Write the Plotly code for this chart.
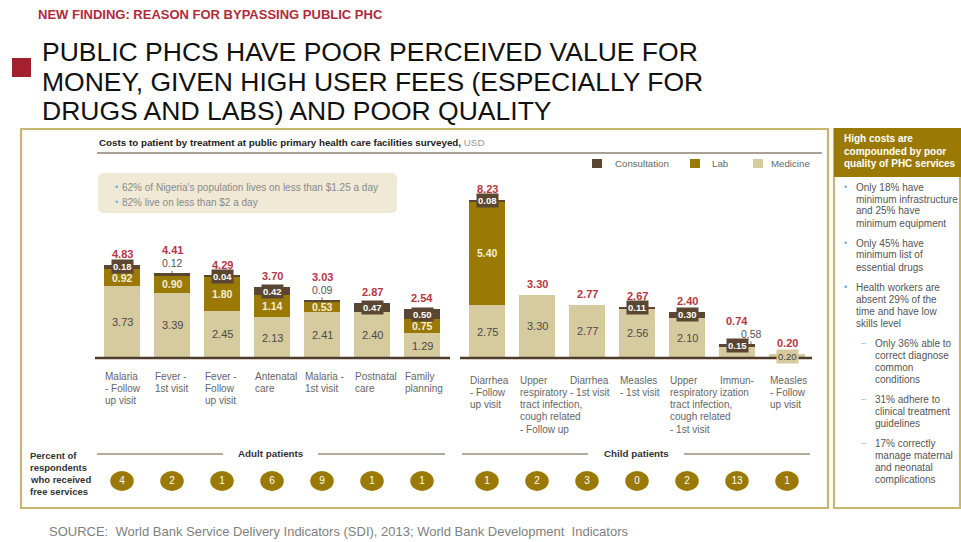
import plotly.graph_objects as go

W, H = 961, 542
FONT = "Liberation Sans, Arial, sans-serif"

# ---------------- data ----------------
adult_categories = ["Malaria<br>- Follow<br>up visit", "Fever -<br>1st visit", "Fever -<br>Follow<br>up visit",
                    "Antenatal<br>care", "Malaria -<br>1st visit", "Postnatal<br>care", "Family<br>planning"]
adult_medicine = [3.73, 3.39, 2.45, 2.13, 2.41, 2.40, 1.29]
adult_lab = [0.92, 0.90, 1.80, 1.14, 0.53, 0.0, 0.75]
adult_consultation = [0.18, 0.12, 0.04, 0.42, 0.09, 0.47, 0.50]
adult_total = [4.83, 4.41, 4.29, 3.70, 3.03, 2.87, 2.54]
adult_free_pct = [4, 2, 1, 6, 9, 1, 1]

child_categories = ["Diarrhea<br>- Follow<br>up visit",
                    "Upper<br>respiratory<br>tract infection,<br>cough related<br>- Follow up",
                    "Diarrhea<br>- 1st visit", "Measles<br>- 1st visit",
                    "Upper<br>respiratory<br>tract infection,<br>cough related<br>- 1st visit",
                    "Immun-<br>ization", "Measles<br>- Follow<br>up visit"]
child_medicine = [2.75, 3.30, 2.77, 2.56, 2.10, 0.58, 0.20]
child_lab = [5.40, 0.0, 0.0, 0.0, 0.0, 0.0, 0.0]
child_consultation = [0.08, 0.0, 0.0, 0.11, 0.30, 0.15, 0.0]
child_total = [8.23, 3.30, 2.77, 2.67, 2.40, 0.74, 0.20]
child_free_pct = [1, 2, 3, 0, 2, 13, 1]

note_lines = ["62% of Nigeria's population lives on less than $1.25 a day",
              "82% live on less than $2 a day"]
panel_header = ["High costs are", "compounded by poor", "quality of PHC services"]
panel_bullets = [
    (0, ["Only 18% have", "minimum infrastructure", "and 25% have", "minimum equipment"]),
    (0, ["Only 45% have", "minimum list of", "essential drugs"]),
    (0, ["Health workers are", "absent 29% of the", "time and have low", "skills level"]),
    (1, ["Only 36% able to", "correct diagnose", "common", "conditions"]),
    (1, ["31% adhere to", "clinical treatment", "guidelines"]),
    (1, ["17% correctly", "manage maternal", "and neonatal", "complications"]),
]
title_lines = ["PUBLIC PHCS HAVE POOR PERCEIVED VALUE FOR",
               "MONEY, GIVEN HIGH USER FEES (ESPECIALLY FOR",
               "DRUGS AND LABS) AND POOR QUALITY"]

# ---------------- styling / layout ----------------
C_CONS = "#5b4633"
C_LAB = "#9a7a04"
C_MED = "#d6ca9f"
C_FRAME = "#c8b66e"
C_RED = "#b83443"
C_GRAY = "#5a5a5a"

X0_PX, STEP_PX = 122, 50
BASE_PX, UNIT_PX = 358, 19.2
CHILD_OFFSET = 7.3
BAR_W = 0.72
OUTSIDE = {1: ("cons", 0.0), 4: ("cons", 0.0), 12: ("med", 0.28)}  # index -> outside label


def fx(p):
    return p / W


def fy(p):
    return 1 - p / H


adult_x = [float(i) for i in range(len(adult_categories))]
child_x = [CHILD_OFFSET + i for i in range(len(child_categories))]
xs = adult_x + child_x
cats = adult_categories + child_categories
med = adult_medicine + child_medicine
lab = adult_lab + child_lab
cons = adult_consultation + child_consultation
tot = adult_total + child_total
free = adult_free_pct + child_free_pct

fig = go.Figure()
for name, vals, col in [("Medicine", med, C_MED), ("Lab", lab, C_LAB), ("Consultation", cons, C_CONS)]:
    fig.add_bar(x=xs, y=vals, name=name, marker_color=col, marker_line_width=0,
                width=BAR_W, showlegend=False, hoverinfo="skip")

fig.add_trace(go.Scatter(x=xs, y=[0] * len(xs), mode="text", text=[str(v) for v in free],
                         textfont=dict(color="white", size=10, family=FONT), yaxis="y2",
                         showlegend=False, hoverinfo="skip"))

ann = []
shapes = []


def txt(x, y, text, size=9.5, color=C_GRAY, bold=False, xanchor="left", yanchor="middle"):
    if bold:
        text = "<b>" + text + "</b>"
    ann.append(dict(x=fx(x), y=fy(y), xref="paper", yref="paper", text=text, showarrow=False,
                    xanchor=xanchor, yanchor=yanchor, font=dict(size=size, color=color, family=FONT)))


def rect(x0, y0, x1, y1, fill=None, line=None, lw=0):
    shapes.append(dict(type="rect", xref="paper", yref="paper", x0=fx(x0), x1=fx(x1), y0=fy(y1), y1=fy(y0),
                       fillcolor=fill if fill else "rgba(0,0,0,0)",
                       line=dict(color=line if line else "rgba(0,0,0,0)", width=lw)))


def hline(x0, x1, y, color, width):
    shapes.append(dict(type="line", xref="paper", yref="paper", x0=fx(x0), x1=fx(x1), y0=fy(y), y1=fy(y),
                       line=dict(color=color, width=width)))


# header texts
txt(36, 15, "NEW FINDING: REASON FOR BYPASSING PUBLIC PHC", size=13, color="#b02b3b", bold=True)
rect(12, 58, 31, 77, fill="#a3212f")
for k, line in enumerate(title_lines):
    txt(40, 52 + 29.5 * k, line, size=26.5, color="#111111")

# frames
rect(21, 129, 828, 508, line=C_FRAME, lw=2.2)
rect(834, 129, 960, 508, line=C_FRAME, lw=2.2)
rect(834, 128, 961, 177, fill=C_LAB)

# subtitle
txt(97, 142, "<b>Costs to patient by treatment at public primary health care facilities surveyed,</b>"
             " <span style='color:#9a9a9a'>USD</span>", size=9.8, color="#222222")
hline(97, 822, 153, "#8c8272", 1.5)

# legend
for sx, tx, lab_name, col in [(592, 613, "Consultation", C_CONS), (690, 710, "Lab", C_LAB),
                              (753, 769, "Medicine", C_MED)]:
    rect(sx, 159, sx + 10, 168, fill=col)
    txt(tx, 163.5, lab_name, size=9.7, color="#666666")

# note box (rounded)
x0, y0, x1, y1, r = 98, 173, 397, 213, 6
path = (f"M {fx(x0 + r)},{fy(y0)} L {fx(x1 - r)},{fy(y0)} Q {fx(x1)},{fy(y0)} {fx(x1)},{fy(y0 + r)} "
        f"L {fx(x1)},{fy(y1 - r)} Q {fx(x1)},{fy(y1)} {fx(x1 - r)},{fy(y1)} "
        f"L {fx(x0 + r)},{fy(y1)} Q {fx(x0)},{fy(y1)} {fx(x0)},{fy(y1 - r)} "
        f"L {fx(x0)},{fy(y0 + r)} Q {fx(x0)},{fy(y0)} {fx(x0 + r)},{fy(y0)} Z")
shapes.append(dict(type="path", xref="paper", yref="paper", path=path, fillcolor="#efe9d6",
                   line=dict(width=0)))
for k, line in enumerate(note_lines):
    txt(113, 187 + 15 * k, "•", size=9, color="#6aaed6")
    txt(120, 187 + 15 * k, line, size=10, color="#8a8a8a")

# baselines
hline(95, 450, BASE_PX, "#4e3b28", 2.5)
hline(460, 812, BASE_PX, "#4e3b28", 2.5)

# bar labels
for i, x in enumerate(xs):
    m, l, c, t = med[i], lab[i], cons[i], tot[i]
    out = OUTSIDE.get(i)
    if m > 0:
        if out and out[0] == "med":
            pass
        elif m < 0.5:
            ann.append(dict(x=x, y=m / 2, xref="x", yref="y", text=f"{m:.2f}", showarrow=False,
                            bgcolor=C_MED, borderpad=1,
                            font=dict(size=9.5, color="#444444", family=FONT)))
        else:
            ann.append(dict(x=x, y=m / 2, xref="x", yref="y", text=f"{m:.2f}", showarrow=False,
                            font=dict(size=11, color="#4a4a4a", family=FONT)))
    if l > 0:
        ann.append(dict(x=x, y=m + l / 2, xref="x", yref="y", text=f"<b>{l:.2f}</b>", showarrow=False,
                        font=dict(size=10.5, color="#f4eed6", family=FONT)))
    if c > 0 and not (out and out[0] == "cons"):
        ann.append(dict(x=x, y=m + l + c / 2, xref="x", yref="y", text=f"<b>{c:.2f}</b>", showarrow=False,
                        bgcolor=C_CONS, borderpad=1,
                        font=dict(size=9.5, color="white", family=FONT)))
    top = m + l + c
    if out:
        v = c if out[0] == "cons" else m
        ann.append(dict(x=x + out[1], y=top, xref="x", yref="y", text=f"{v:.2f}", showarrow=True,
                        arrowhead=0, arrowwidth=1, arrowcolor="#666666", ax=0, ay=-10, standoff=0,
                        font=dict(size=10.5, color="#555555", family=FONT)))
    ann.append(dict(x=x, y=top, xref="x", yref="y", text=f"<b>{t:.2f}</b>", showarrow=False,
                    yshift=23 if out else 11, font=dict(size=11, color=C_RED, family=FONT)))

# category labels
for i, x in enumerate(xs):
    lines = cats[i].split("<br>")
    ystart = 376 if i < len(adult_x) else 380
    for k, line in enumerate(lines):
        ann.append(dict(x=x - BAR_W / 2, y=fy(ystart + 12.3 * k), xref="x", yref="paper", text=line,
                        showarrow=False, xanchor="left", yanchor="middle", xshift=-1,
                        font=dict(size=10, color="#666666", family=FONT)))

# free-service ellipses
for x in xs:
    shapes.append(dict(type="circle", xref="x", yref="paper", x0=x - 0.235, x1=x + 0.235,
                       y0=fy(491), y1=fy(471), fillcolor=C_LAB, line=dict(width=0), layer="below"))

# group headers
hline(97, 223, 454, "#b3aa9a", 2)
hline(318, 445, 454, "#b3aa9a", 2)
txt(271, 453, "Adult patients", size=9.8, color="#333333", bold=True, xanchor="center")
hline(462, 588, 454, "#b3aa9a", 2)
hline(684, 810, 454, "#b3aa9a", 2)
txt(636, 453, "Child patients", size=9.8, color="#333333", bold=True, xanchor="center")
for k, line in enumerate(["Percent of", "respondents", "who received", "free services"]):
    txt(28, 455 + 12.2 * k, line, size=9.5, color="#333333", bold=True)

# right panel
for k, line in enumerate(panel_header):
    txt(842, 139 + 12.2 * k, line, size=10, color="white", bold=True)
y = 187
for level, lines in panel_bullets:
    if level == 0:
        txt(842, y, "•", size=9, color="#6aaed6")
        tx = 854
    else:
        txt(859, y, "–", size=9, color="#8cc0dc")
        tx = 873
    for k, line in enumerate(lines):
        txt(tx, y + 12 * k, line, size=10, color="#555555")
    y += 12 * len(lines) + 8

txt(47, 531, "SOURCE:  World Bank Service Delivery Indicators (SDI), 2013; World Bank Development  Indicators",
    size=13, color="#808080")

fig.update_layout(
    width=W, height=H, margin=dict(l=0, r=0, t=0, b=0),
    paper_bgcolor="white", plot_bgcolor="rgba(0,0,0,0)",
    barmode="stack", bargap=0, showlegend=False,
    xaxis=dict(domain=[0, 1], range=[-X0_PX / STEP_PX, (W - X0_PX) / STEP_PX], visible=False, fixedrange=True),
    yaxis=dict(domain=[0, 1], range=[-(H - BASE_PX) / UNIT_PX, BASE_PX / UNIT_PX], visible=False,
               fixedrange=True),
    yaxis2=dict(domain=[fy(492), fy(470)], range=[-1, 1], visible=False, anchor="x", fixedrange=True),
    annotations=ann, shapes=shapes,
    font=dict(family=FONT),
)

fig.write_html("out.html")
